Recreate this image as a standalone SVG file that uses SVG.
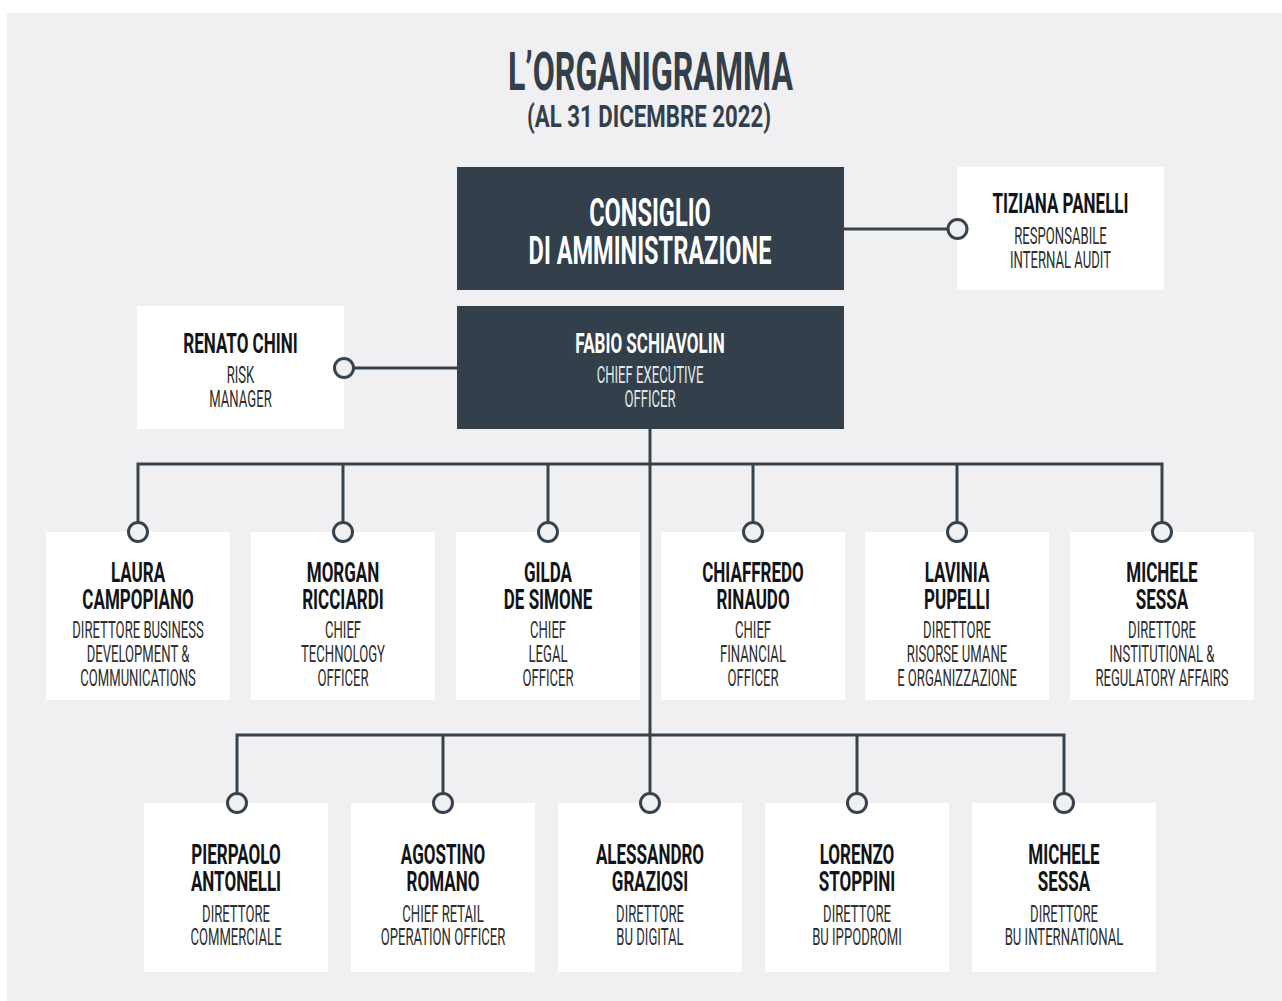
<svg xmlns="http://www.w3.org/2000/svg" width="1282" height="1001" viewBox="0 0 1282 1001">
<style>
.bg{fill:#f0f0f2}
.wb{fill:#ffffff}
.db{fill:#333f4a}
.ln{stroke:#36424d;stroke-width:3;fill:none}
.dot{stroke:#36424d;stroke-width:3;fill:#f0f0f2}
text{font-family:Roboto,"Liberation Sans",sans-serif;text-anchor:middle}
.nm{font-size:27px;font-weight:700;fill:#111418}
.sb{font-size:23px;font-weight:400;fill:#2e2e2e}
.nmw{font-size:27px;font-weight:700;fill:#ffffff}
.sbw{font-size:23px;font-weight:400;fill:#e4e7ea}
.cda{font-size:38px;font-weight:700;fill:#ffffff}
.tt{font-weight:700;fill:#333f4a}
</style>
<rect class="bg" x="7" y="13" width="1275" height="988"/>

<g id="title">
<text class="tt" x="650.5" y="90" font-size="53" textLength="285" lengthAdjust="spacingAndGlyphs">L’ORGANIGRAMMA</text>
<text class="tt" x="649" y="127" font-size="31" textLength="244" lengthAdjust="spacingAndGlyphs">(AL 31 DICEMBRE 2022)</text>
</g>

<g id="connectors">
<line class="ln" x1="844" y1="229" x2="948" y2="229"/>
<line class="ln" x1="457" y1="368" x2="354" y2="368"/>
<line class="ln" x1="650" y1="429" x2="650" y2="794"/>
<polyline class="ln" points="138,523 138,464 1162,464 1162,523"/>
<line class="ln" x1="343" y1="464" x2="343" y2="523"/>
<line class="ln" x1="548" y1="464" x2="548" y2="523"/>
<line class="ln" x1="753" y1="464" x2="753" y2="523"/>
<line class="ln" x1="957" y1="464" x2="957" y2="523"/>
<polyline class="ln" points="237,794 237,735 1064,735 1064,794"/>
<line class="ln" x1="443" y1="735" x2="443" y2="794"/>
<line class="ln" x1="857" y1="735" x2="857" y2="794"/>
</g>

<g id="n-cda">
<rect class="db" x="457" y="167" width="387" height="123"/>
<text class="cda" transform="translate(650 226) scale(0.62 1)">CONSIGLIO</text>
<text class="cda" transform="translate(650 264) scale(0.62 1)">DI AMMINISTRAZIONE</text>
</g>

<g id="n-tiziana">
<rect class="wb" x="957" y="167" width="207" height="123"/>
<g transform="translate(1060.5 0)">
<text class="nm" y="213" transform="scale(0.63 1)">TIZIANA PANELLI</text>
<text class="sb" y="244" transform="scale(0.57 1)">RESPONSABILE</text>
<text class="sb" y="268" transform="scale(0.57 1)">INTERNAL AUDIT</text>
</g>
</g>

<g id="n-renato">
<rect class="wb" x="137" y="306" width="207" height="123"/>
<g transform="translate(240.5 0)">
<text class="nm" y="353" transform="scale(0.63 1)">RENATO CHINI</text>
<text class="sb" y="383" transform="scale(0.57 1)">RISK</text>
<text class="sb" y="407" transform="scale(0.57 1)">MANAGER</text>
</g>
</g>

<g id="n-fabio">
<rect class="db" x="457" y="306" width="387" height="123"/>
<g transform="translate(650 0)">
<text class="nmw" y="353" transform="scale(0.63 1)">FABIO SCHIAVOLIN</text>
<text class="sbw" y="383" transform="scale(0.57 1)">CHIEF EXECUTIVE</text>
<text class="sbw" y="407" transform="scale(0.57 1)">OFFICER</text>
</g>
</g>

<g id="n-laura" transform="translate(138 0)">
<rect class="wb" x="-92" y="532" width="184" height="168"/>
<text class="nm" y="582" transform="scale(0.63 1)">LAURA</text>
<text class="nm" y="609" transform="scale(0.63 1)">CAMPOPIANO</text>
<text class="sb" y="638" transform="scale(0.57 1)">DIRETTORE BUSINESS</text>
<text class="sb" y="662" transform="scale(0.57 1)">DEVELOPMENT &amp;</text>
<text class="sb" y="686" transform="scale(0.57 1)">COMMUNICATIONS</text>
</g>

<g id="n-morgan" transform="translate(343 0)">
<rect class="wb" x="-92" y="532" width="184" height="168"/>
<text class="nm" y="582" transform="scale(0.63 1)">MORGAN</text>
<text class="nm" y="609" transform="scale(0.63 1)">RICCIARDI</text>
<text class="sb" y="638" transform="scale(0.57 1)">CHIEF</text>
<text class="sb" y="662" transform="scale(0.57 1)">TECHNOLOGY</text>
<text class="sb" y="686" transform="scale(0.57 1)">OFFICER</text>
</g>

<g id="n-gilda" transform="translate(548 0)">
<rect class="wb" x="-92" y="532" width="184" height="168"/>
<text class="nm" y="582" transform="scale(0.63 1)">GILDA</text>
<text class="nm" y="609" transform="scale(0.63 1)">DE SIMONE</text>
<text class="sb" y="638" transform="scale(0.57 1)">CHIEF</text>
<text class="sb" y="662" transform="scale(0.57 1)">LEGAL</text>
<text class="sb" y="686" transform="scale(0.57 1)">OFFICER</text>
</g>

<g id="n-chiaffredo" transform="translate(753 0)">
<rect class="wb" x="-92" y="532" width="184" height="168"/>
<text class="nm" y="582" transform="scale(0.63 1)">CHIAFFREDO</text>
<text class="nm" y="609" transform="scale(0.63 1)">RINAUDO</text>
<text class="sb" y="638" transform="scale(0.57 1)">CHIEF</text>
<text class="sb" y="662" transform="scale(0.57 1)">FINANCIAL</text>
<text class="sb" y="686" transform="scale(0.57 1)">OFFICER</text>
</g>

<g id="n-lavinia" transform="translate(957 0)">
<rect class="wb" x="-92" y="532" width="184" height="168"/>
<text class="nm" y="582" transform="scale(0.63 1)">LAVINIA</text>
<text class="nm" y="609" transform="scale(0.63 1)">PUPELLI</text>
<text class="sb" y="638" transform="scale(0.57 1)">DIRETTORE</text>
<text class="sb" y="662" transform="scale(0.57 1)">RISORSE UMANE</text>
<text class="sb" y="686" transform="scale(0.57 1)">E ORGANIZZAZIONE</text>
</g>

<g id="n-michele1" transform="translate(1162 0)">
<rect class="wb" x="-92" y="532" width="184" height="168"/>
<text class="nm" y="582" transform="scale(0.63 1)">MICHELE</text>
<text class="nm" y="609" transform="scale(0.63 1)">SESSA</text>
<text class="sb" y="638" transform="scale(0.57 1)">DIRETTORE</text>
<text class="sb" y="662" transform="scale(0.57 1)">INSTITUTIONAL &amp;</text>
<text class="sb" y="686" transform="scale(0.57 1)">REGULATORY AFFAIRS</text>
</g>

<g id="n-pierpaolo" transform="translate(236 0)">
<rect class="wb" x="-92" y="803" width="184" height="169"/>
<text class="nm" y="864" transform="scale(0.63 1)">PIERPAOLO</text>
<text class="nm" y="891" transform="scale(0.63 1)">ANTONELLI</text>
<text class="sb" y="922" transform="scale(0.57 1)">DIRETTORE</text>
<text class="sb" y="945" transform="scale(0.57 1)">COMMERCIALE</text>
</g>

<g id="n-agostino" transform="translate(443 0)">
<rect class="wb" x="-92" y="803" width="184" height="169"/>
<text class="nm" y="864" transform="scale(0.63 1)">AGOSTINO</text>
<text class="nm" y="891" transform="scale(0.63 1)">ROMANO</text>
<text class="sb" y="922" transform="scale(0.57 1)">CHIEF RETAIL</text>
<text class="sb" y="945" transform="scale(0.57 1)">OPERATION OFFICER</text>
</g>

<g id="n-alessandro" transform="translate(650 0)">
<rect class="wb" x="-92" y="803" width="184" height="169"/>
<text class="nm" y="864" transform="scale(0.63 1)">ALESSANDRO</text>
<text class="nm" y="891" transform="scale(0.63 1)">GRAZIOSI</text>
<text class="sb" y="922" transform="scale(0.57 1)">DIRETTORE</text>
<text class="sb" y="945" transform="scale(0.57 1)">BU DIGITAL</text>
</g>

<g id="n-lorenzo" transform="translate(857 0)">
<rect class="wb" x="-92" y="803" width="184" height="169"/>
<text class="nm" y="864" transform="scale(0.63 1)">LORENZO</text>
<text class="nm" y="891" transform="scale(0.63 1)">STOPPINI</text>
<text class="sb" y="922" transform="scale(0.57 1)">DIRETTORE</text>
<text class="sb" y="945" transform="scale(0.57 1)">BU IPPODROMI</text>
</g>

<g id="n-michele2" transform="translate(1064 0)">
<rect class="wb" x="-92" y="803" width="184" height="169"/>
<text class="nm" y="864" transform="scale(0.63 1)">MICHELE</text>
<text class="nm" y="891" transform="scale(0.63 1)">SESSA</text>
<text class="sb" y="922" transform="scale(0.57 1)">DIRETTORE</text>
<text class="sb" y="945" transform="scale(0.57 1)">BU INTERNATIONAL</text>
</g>

<g id="connector-dots">
<circle class="dot" cx="957.5" cy="229" r="9.5"/>
<circle class="dot" cx="344" cy="368" r="9.5"/>
<circle class="dot" cx="138" cy="532" r="9.5"/>
<circle class="dot" cx="343" cy="532" r="9.5"/>
<circle class="dot" cx="548" cy="532" r="9.5"/>
<circle class="dot" cx="753" cy="532" r="9.5"/>
<circle class="dot" cx="957" cy="532" r="9.5"/>
<circle class="dot" cx="1162" cy="532" r="9.5"/>
<circle class="dot" cx="237" cy="803" r="9.5"/>
<circle class="dot" cx="443" cy="803" r="9.5"/>
<circle class="dot" cx="650" cy="803" r="9.5"/>
<circle class="dot" cx="857" cy="803" r="9.5"/>
<circle class="dot" cx="1064" cy="803" r="9.5"/>
</g>
</svg>
